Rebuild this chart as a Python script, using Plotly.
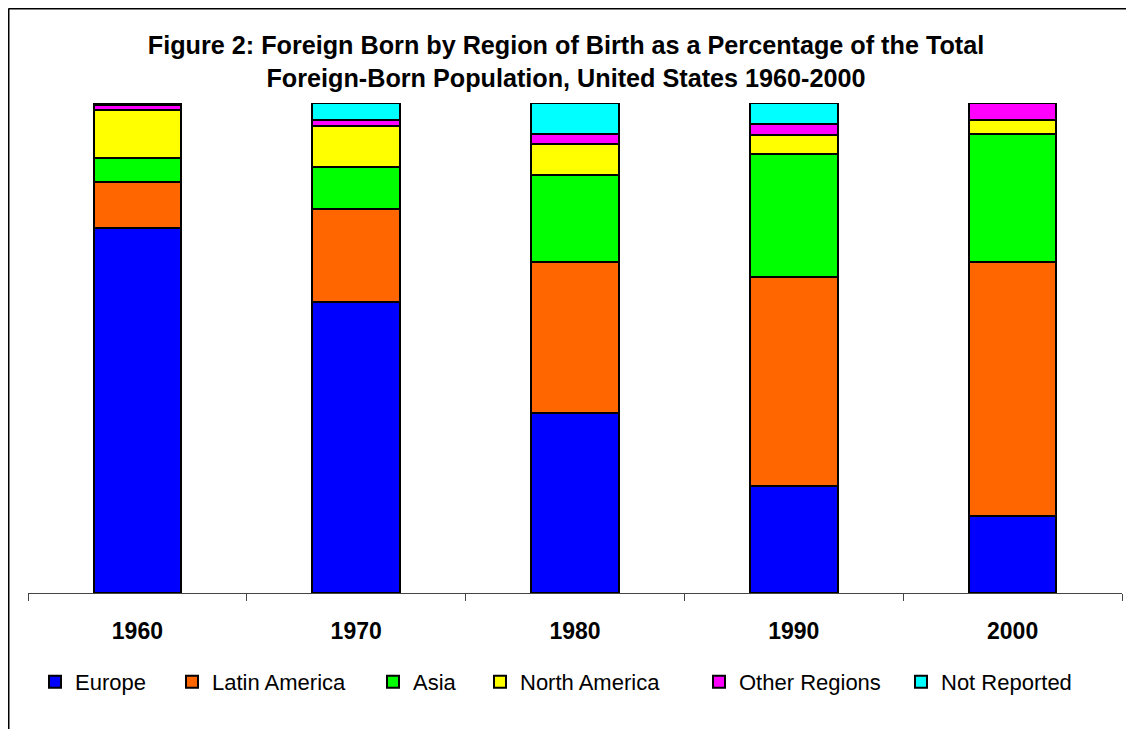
import plotly.graph_objects as go

years = ["1960", "1970", "1980", "1990", "2000"]
europe = [74.5, 59.4, 36.7, 21.9, 15.7]
latin_america = [9.4, 18.9, 30.9, 42.6, 51.8]
asia = [4.9, 8.7, 17.8, 25.1, 26.2]
north_america = [9.8, 8.3, 6.2, 3.9, 2.8]
other_regions = [0.9, 1.2, 2.0, 2.3, 3.5]
not_reported = [0.5, 3.5, 6.4, 4.2, 0.0]

series = [
    ("Europe", europe, "#0000FF"),
    ("Latin America", latin_america, "#FF6600"),
    ("Asia", asia, "#00FF00"),
    ("North America", north_america, "#FFFF00"),
    ("Other Regions", other_regions, "#FF00FF"),
    ("Not Reported", not_reported, "#00FFFF"),
]

FONT = "Arial, Liberation Sans, sans-serif"
# page offset of the plot div (body margin)
OFF = 8
# legend symbol left edges on the page (px)
legend_px = [50, 187, 388, 495, 714, 916]
W, H = 1134 - OFF, 729 - OFF
L, R = 28 - OFF, 12
T = 103 - OFF
B = H - (593 - OFF)
pw = W - L - R
ph = H - T - B

fig = go.Figure()
layout_legends = {}
for i, (name, vals, color) in enumerate(series):
    key = "legend" if i == 0 else f"legend{i + 1}"
    fig.add_trace(go.Bar(
        x=years, y=vals, name=name,
        marker=dict(color=color, line=dict(color="black", width=2)),
        width=0.4, legend=key,
    ))
    lx = legend_px[i] - 1 - 14 - OFF
    layout_legends[key] = dict(
        x=(lx - L) / pw, xanchor="left",
        y=((H - B) - (682 - OFF)) / ph, yanchor="middle",
        orientation="h", font=dict(family=FONT, size=22, color="black"),
        bgcolor="rgba(0,0,0,0)", borderwidth=0, itemwidth=30,
    )

fig.update_layout(
    barmode="stack",
    width=W, height=H,
    margin=dict(l=L, r=R, t=T, b=B),
    paper_bgcolor="white", plot_bgcolor="white",
    title=dict(
        text="Figure 2: Foreign Born by Region of Birth as a Percentage of the Total<br>Foreign-Born Population, United States 1960-2000",
        font=dict(family=FONT, size=25.2, color="black", weight="bold"),
        x=(566 - OFF - L) / pw, xanchor="center", xref="paper",
        y=1 - 46 / H, yanchor="middle", yref="container",
    ),
    xaxis=dict(
        type="category", range=[-0.5, 4.5],
        showline=True, linecolor="#444", linewidth=1,
        ticks="outside", tickson="boundaries", ticklen=7, tickcolor="#444",
        tickfont=dict(family=FONT, size=23, color="black", weight="bold"),
        ticklabelstandoff=17,
        showgrid=False, zeroline=False,
    ),
    yaxis=dict(range=[0, 100], visible=False, showgrid=False, zeroline=False),
    bargap=0.6,
    showlegend=True,
    **layout_legends,
)

# chart frame (left and top edges)
fig.add_shape(type="line", xref="paper", yref="paper",
              x0=(0.5 - L) / pw, x1=1.05, y0=(H - B - 0.75) / ph, y1=(H - B - 0.75) / ph,
              line=dict(color="black", width=1.5))
fig.add_shape(type="line", xref="paper", yref="paper",
              x0=(0.75 - L) / pw, x1=(0.75 - L) / pw, y0=(H - B - 0.5) / ph, y1=-0.4,
              line=dict(color="black", width=1.5))

fig.write_html("out.html")
